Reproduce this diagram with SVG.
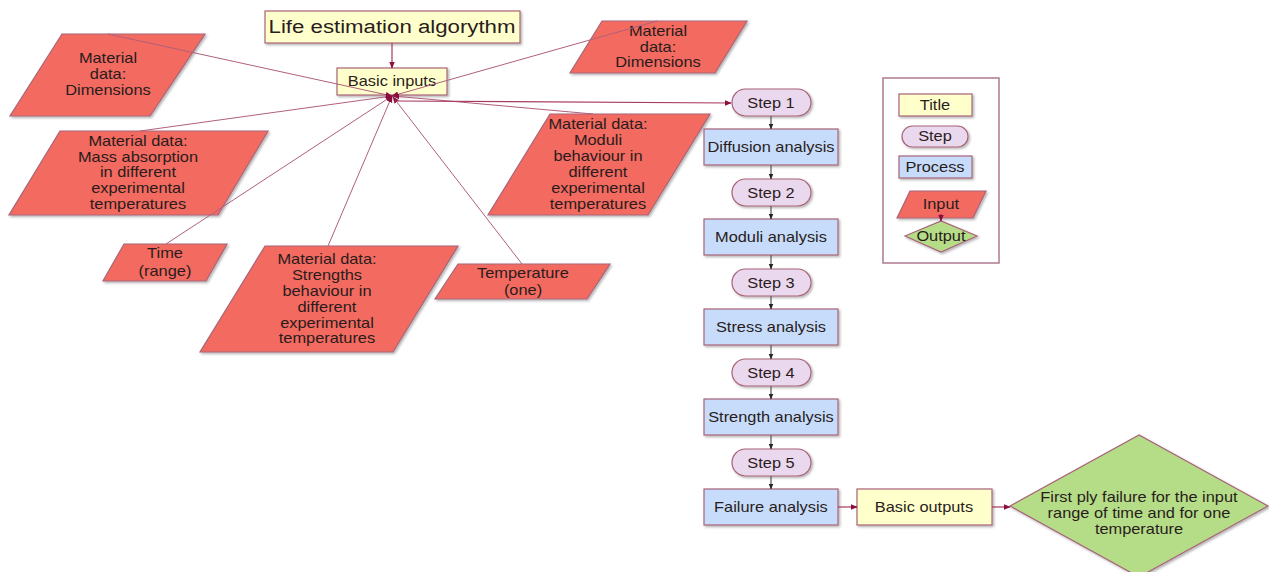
<svg xmlns="http://www.w3.org/2000/svg" width="1269" height="572" viewBox="0 0 1269 572">
<style>
text { font-family: "Liberation Sans", Arial, sans-serif; font-size: 14px; fill: #2a1c1c; text-anchor: middle; transform-box: fill-box; transform-origin: center; transform: scaleX(1.17); }
.title text { font-size: 19px; }
.nd { stroke: #a86478; stroke-width: 1.2; filter: url(#sh); }
.ttl { fill: #ffffcc; }
.stp { fill: #ead8ee; }
.prc { fill: #c6dcfa; }
.inp { fill: #f26b61; }
.out { fill: #b5dd88; }
.cin { stroke: #b0607c; stroke-width: 1; fill: none; marker-end: url(#ar); }
.cfl { stroke: #555; stroke-width: 1.2; fill: none; marker-end: url(#ab); }
.cr { stroke: #a83a5c; stroke-width: 1.2; fill: none; marker-end: url(#ar); }
</style>
<defs>
<filter id="sh" x="-10%" y="-10%" width="130%" height="130%">
<feDropShadow dx="1.5" dy="1.5" stdDeviation="1" flood-color="#000" flood-opacity="0.3"/>
</filter>
<marker id="ar" viewBox="0 0 10 10" refX="9" refY="5" markerWidth="7" markerHeight="7" markerUnits="userSpaceOnUse" orient="auto">
<path d="M0,1 L10,5 L0,9 Z" fill="#8a0f3e"/>
</marker>
<marker id="ab" viewBox="0 0 10 10" refX="9" refY="5" markerWidth="6" markerHeight="6" markerUnits="userSpaceOnUse" orient="auto">
<path d="M0,1 L10,5 L0,9 Z" fill="#222"/>
</marker>
</defs>
<rect width="1269" height="572" fill="#fff"/>

<g id="title" class="title">
<rect class="nd ttl" x="265" y="11" width="255" height="32"/>
<text x="392" y="33">Life estimation algorythm</text>
</g>
<g id="basic-inputs">
<rect class="nd ttl" x="337" y="68" width="110" height="27"/>
<text x="392" y="86">Basic inputs</text>
</g>
<g id="dim-left">
<polygon class="nd inp" points="62,34 205,34 150,116 10,116"/>
<text x="108" y="63">Material</text>
<text x="108" y="79">data:</text>
<text x="108" y="95">Dimensions</text>
</g>
<g id="dim-right">
<polygon class="nd inp" points="602,21 747,21 715,73 570,73"/>
<text x="658" y="36">Material</text>
<text x="658" y="52">data:</text>
<text x="658" y="67">Dimensions</text>
</g>
<g id="mass">
<polygon class="nd inp" points="60,131 268,131 218,215 9,215"/>
<text x="138" y="146">Material data:</text>
<text x="138" y="162">Mass absorption</text>
<text x="138" y="177">in different</text>
<text x="138" y="193">experimental</text>
<text x="138" y="209">temperatures</text>
</g>
<g id="moduli">
<polygon class="nd inp" points="550,114 710,114 648,215 488,215"/>
<text x="598" y="129">Material data:</text>
<text x="598" y="145">Moduli</text>
<text x="598" y="161">behaviour in</text>
<text x="598" y="177">different</text>
<text x="598" y="193">experimental</text>
<text x="598" y="209">temperatures</text>
</g>
<g id="time">
<polygon class="nd inp" points="124,244 227,244 206,281 103,281"/>
<text x="165" y="258">Time</text>
<text x="165" y="276">(range)</text>
</g>
<g id="strengths">
<polygon class="nd inp" points="265,246 458,246 393,352 200,352"/>
<text x="327" y="264">Material data:</text>
<text x="327" y="280">Strengths</text>
<text x="327" y="296">behaviour in</text>
<text x="327" y="312">different</text>
<text x="327" y="328">experimental</text>
<text x="327" y="343">temperatures</text>
</g>
<g id="temperature">
<polygon class="nd inp" points="458,264 610,264 587,299 435,299"/>
<text x="523" y="278">Temperature</text>
<text x="523" y="295">(one)</text>
</g>

<g id="step1"><rect class="nd stp" x="732" y="89" width="79" height="27" rx="13.5"/><text x="771" y="108">Step 1</text></g>
<g id="diffusion"><rect class="nd prc" x="704" y="129" width="134" height="36"/><text x="771" y="152">Diffusion analysis</text></g>
<g id="step2"><rect class="nd stp" x="732" y="179" width="79" height="27" rx="13.5"/><text x="771" y="198">Step 2</text></g>
<g id="moduli-analysis"><rect class="nd prc" x="704" y="219" width="134" height="36"/><text x="771" y="242">Moduli analysis</text></g>
<g id="step3"><rect class="nd stp" x="732" y="269" width="79" height="27" rx="13.5"/><text x="771" y="288">Step 3</text></g>
<g id="stress"><rect class="nd prc" x="704" y="309" width="134" height="36"/><text x="771" y="332">Stress analysis</text></g>
<g id="step4"><rect class="nd stp" x="732" y="359" width="79" height="27" rx="13.5"/><text x="771" y="378">Step 4</text></g>
<g id="strength"><rect class="nd prc" x="704" y="399" width="134" height="36"/><text x="771" y="422">Strength analysis</text></g>
<g id="step5"><rect class="nd stp" x="732" y="449" width="79" height="27" rx="13.5"/><text x="771" y="468">Step 5</text></g>
<g id="failure"><rect class="nd prc" x="704" y="489" width="134" height="36"/><text x="771" y="512">Failure analysis</text></g>
<g id="basic-outputs"><rect class="nd ttl" x="857" y="489" width="135" height="36"/><text x="924" y="512">Basic outputs</text></g>
<g id="result">
<polygon class="nd out" points="1010,506 1139,435 1268,506 1139,577"/>
<text x="1139" y="502">First ply failure for the input</text>
<text x="1139" y="518">range of time and for one</text>
<text x="1139" y="534">temperature</text>
</g>

<g id="legend">
<rect x="883" y="78" width="116" height="185" fill="#fff" stroke="#b07a90" stroke-width="1.5"/>
<rect class="nd ttl" x="899" y="94" width="73" height="22"/><text x="935" y="110">Title</text>
<rect class="nd stp" x="902" y="126" width="66" height="21" rx="10.5"/><text x="935" y="141">Step</text>
<rect class="nd prc" x="899" y="156" width="73" height="22"/><text x="935" y="172">Process</text>
<polygon class="nd inp" points="910,191 986,191 973,218 897,218"/><text x="941" y="209">Input</text>
<polygon class="nd out" points="905,236 941,221 977,236 941,252"/><text x="941" y="241">Output</text>
<path d="M941,214 L941,221" stroke="#8a0f3e" stroke-width="1" marker-end="url(#ar)"/>
</g>

<g id="connectors">
<path class="cr" d="M392,43 L392,68"/>
<path class="cin" d="M108,34 L392,96"/>
<path class="cin" d="M657,21 L392,96"/>
<path class="cin" d="M140,131 L392,96"/>
<path class="cin" d="M166,244 L392,96"/>
<path class="cin" d="M328,246 L392,96"/>
<path class="cin" d="M522,264 L393,97"/>
<path class="cin" d="M593,114 L393,96"/>
<path class="cr" d="M395,101 L731,103"/>
<path class="cfl" d="M771,116 L771,129"/>
<path class="cfl" d="M771,165 L771,179"/>
<path class="cfl" d="M771,206 L771,219"/>
<path class="cfl" d="M771,255 L771,269"/>
<path class="cfl" d="M771,296 L771,309"/>
<path class="cfl" d="M771,345 L771,359"/>
<path class="cfl" d="M771,386 L771,399"/>
<path class="cfl" d="M771,435 L771,449"/>
<path class="cfl" d="M771,476 L771,489"/>
<path class="cr" d="M838,507 L857,507"/>
<path class="cr" d="M992,507 L1010,507"/>
</g>
</svg>
